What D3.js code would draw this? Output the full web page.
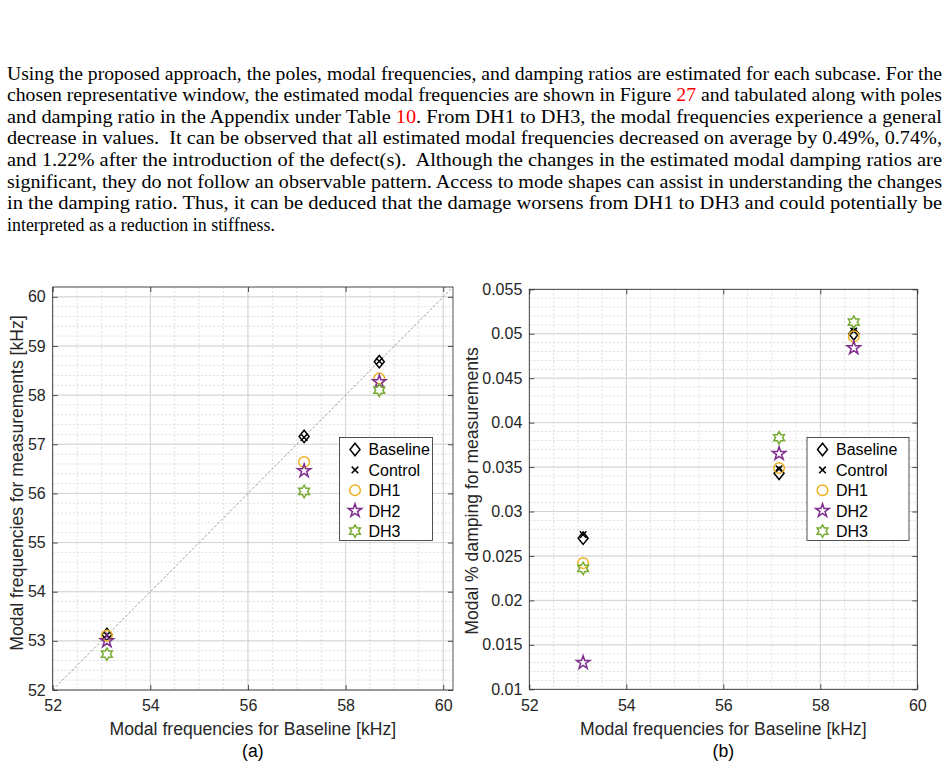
<!DOCTYPE html>
<html>
<head>
<meta charset="utf-8">
<script src="https://cdn.jsdelivr.net/npm/d3@7"></script>
<style>
  body { margin: 0; background: #fff; }
  svg { display: block; }
</style>
</head>
<body>
<svg id="fig" width="950" height="767"></svg>
<script>
// ---- data ----
const baselineFreq = [53.11, 57.15, 58.69];            // x: modal freq of Baseline [kHz]
const seriesNames  = ['Baseline', 'Control', 'DH1', 'DH2', 'DH3'];

// (a) modal frequencies for measurements [kHz]
const freqBaseline = [53.13, 57.16, 58.68];
const freqControl  = [53.12, 57.14, 58.69];
const freqDH1      = [53.11, 56.64, 58.34];
const freqDH2      = [53.00, 56.46, 58.27];
const freqDH3      = [52.73, 56.04, 58.10];

// (b) modal % damping for measurements
const dampBaseline = [0.0270, 0.0343, 0.0500];
const dampControl  = [0.0274, 0.0348, 0.0503];
const dampDH1      = [0.0242, 0.0349, 0.0497];
const dampDH2      = [0.0130, 0.0365, 0.0484];
const dampDH3      = [0.0236, 0.0383, 0.0513];

const xTicks      = [52, 54, 56, 58, 60];
const freqTicks   = [52, 53, 54, 55, 56, 57, 58, 59, 60];
const dampTicks   = [0.01, 0.015, 0.02, 0.025, 0.03, 0.035, 0.04, 0.045, 0.05, 0.055];

const paragraph = [
  [['Using the proposed approach, the poles, modal frequencies, and damping ratios are estimated for each subcase. For the']],
  [['chosen representative window, the estimated modal frequencies are shown in Figure '], ['27', 'red'], [' and tabulated along with poles']],
  [['and damping ratio in the Appendix under Table '], ['10', 'red'], ['. From DH1 to DH3, the modal frequencies experience a general']],
  [['decrease in values.  It can be observed that all estimated modal frequencies decreased on average by 0.49%, 0.74%,']],
  [['and 1.22% after the introduction of the defect(s).  Although the changes in the estimated modal damping ratios are']],
  [['significant, they do not follow an observable pattern. Access to mode shapes can assist in understanding the changes']],
  [['in the damping ratio. Thus, it can be deduced that the damage worsens from DH1 to DH3 and could potentially be']],
  [['interpreted as a reduction in stiffness.']]
];

// ---- styles ----
const colors  = { Baseline: '#000', Control: '#000', DH1: '#EDB120', DH2: '#7E2F8E', DH3: '#77AC30' };
const sans    = '"Liberation Sans", Arial, sans-serif';
const serif   = '"Liberation Serif", "Times New Roman", serif';

const svg = d3.select('#fig');

// ---- text paragraph (justified lines) ----
paragraph.forEach((line, i) => {
  const t = svg.append('text')
    .attr('x', 7)
    .attr('y', 79.5 + i * 21.64)
    .style('font-family', serif)
    .style('font-size', '17.9px')
    .attr('fill', '#000')
    .attr('xml:space', 'preserve');
  line.forEach(seg => {
    t.append('tspan').attr('fill', seg[1] || '#000').text(seg[0]);
  });
  if (i < paragraph.length - 1) {
    t.attr('textLength', 935).attr('lengthAdjust', 'spacingAndGlyphs');
  }
});

// ---- marker shapes (MATLAB-like) ----
function starPath(points, R, r) {
  const pts = [];
  for (let k = 0; k < points * 2; k++) {
    const a = -Math.PI / 2 + k * Math.PI / points;
    const rad = k % 2 === 0 ? R : r;
    pts.push([rad * Math.cos(a), rad * Math.sin(a)]);
  }
  return 'M' + pts.map(p => p[0].toFixed(2) + ',' + p[1].toFixed(2)).join('L') + 'Z';
}
const markerPath = {
  Baseline: 'M0,-6.2L5,0L0,6.2L-5,0Z',
  Control: 'M-3.3,-3.3L3.3,3.3M-3.3,3.3L3.3,-3.3',
  DH1: d3.symbol(d3.symbolCircle, Math.PI * 5.3 * 5.3)(),
  DH2: starPath(5, 7, 7 * 0.382),
  DH3: starPath(6, 6.2, 6.2 / Math.sqrt(3))
};

function drawMarker(g, name, x, y) {
  g.append('path')
    .attr('d', markerPath[name])
    .attr('transform', `translate(${x},${y})`)
    .attr('fill', 'none')
    .attr('stroke', colors[name])
    .attr('stroke-width', 1.5)
    .attr('stroke-linejoin', 'miter');
}

// ---- one panel ----
function panel(opt) {
  const g = svg.append('g');
  const x = d3.scaleLinear().domain(opt.xDomain).range([opt.x0, opt.x1]);
  const y = d3.scaleLinear().domain(opt.yDomain).range([opt.y1, opt.y0]);

  // minor grid
  const xMinor = d3.range(opt.xDomain[0], opt.xDomain[1] + 1e-9, 0.5);
  const yMinor = d3.range(0, Math.round((opt.yDomain[1] - opt.yDomain[0]) / opt.yMinorStep) + 1)
    .map(k => opt.yDomain[0] + k * opt.yMinorStep);
  g.append('g').selectAll('line').data(xMinor).join('line')
    .attr('x1', d => x(d)).attr('x2', d => x(d))
    .attr('y1', opt.y0).attr('y2', opt.y1)
    .attr('stroke', '#d6d6d6').attr('stroke-width', 0.8).attr('stroke-dasharray', '2,2');
  g.append('g').selectAll('line').data(yMinor).join('line')
    .attr('x1', opt.x0).attr('x2', opt.x1)
    .attr('y1', d => y(d)).attr('y2', d => y(d))
    .attr('stroke', '#d6d6d6').attr('stroke-width', 0.8).attr('stroke-dasharray', '2,2');

  // major grid
  g.append('g').selectAll('line').data(opt.xTicks).join('line')
    .attr('x1', d => x(d)).attr('x2', d => x(d))
    .attr('y1', opt.y0).attr('y2', opt.y1)
    .attr('stroke', '#d4d4d4').attr('stroke-width', 1);
  g.append('g').selectAll('line').data(opt.yTicks).join('line')
    .attr('x1', opt.x0).attr('x2', opt.x1)
    .attr('y1', d => y(d)).attr('y2', d => y(d))
    .attr('stroke', '#d4d4d4').attr('stroke-width', 1);

  if (opt.diagonal) {
    g.append('line')
      .attr('x1', x(opt.xDomain[0])).attr('y1', y(opt.xDomain[0]))
      .attr('x2', x(opt.xDomain[1])).attr('y2', y(opt.xDomain[1]))
      .attr('stroke', '#8c8c8c').attr('stroke-width', 0.9).attr('stroke-dasharray', '2.5,2');
  }

  // axes (ticks inward, on all four sides)
  const fmt = opt.yFormat;
  const axB = g.append('g').attr('transform', `translate(0,${opt.y1})`)
    .call(d3.axisBottom(x).tickValues(opt.xTicks).tickSizeInner(-5).tickSizeOuter(0).tickPadding(10).tickFormat(d3.format('d')));
  const axL = g.append('g').attr('transform', `translate(${opt.x0},0)`)
    .call(d3.axisLeft(y).tickValues(opt.yTicks).tickSizeInner(-5).tickSizeOuter(0).tickPadding(7).tickFormat(fmt));
  const axT = g.append('g').attr('transform', `translate(0,${opt.y0})`)
    .call(d3.axisTop(x).tickValues(opt.xTicks).tickSizeInner(-5).tickSizeOuter(0).tickFormat(''));
  const axR = g.append('g').attr('transform', `translate(${opt.x1},0)`)
    .call(d3.axisRight(y).tickValues(opt.yTicks).tickSizeInner(-5).tickSizeOuter(0).tickFormat(''));
  [axB, axL, axT, axR].forEach(a => {
    a.select('.domain').remove();
    a.selectAll('line').attr('stroke', '#262626').attr('stroke-width', 0.8);
    a.selectAll('text').style('font-family', sans).style('font-size', '16px').attr('fill', '#262626');
  });

  g.append('rect')
    .attr('x', opt.x0).attr('y', opt.y0)
    .attr('width', opt.x1 - opt.x0).attr('height', opt.y1 - opt.y0)
    .attr('fill', 'none').attr('stroke', '#262626').attr('stroke-width', 0.8);

  // data markers
  const mg = g.append('g');
  seriesNames.forEach(name => {
    opt.series[name].forEach((v, i) => drawMarker(mg, name, x(baselineFreq[i]), y(v)));
  });

  // labels
  g.append('text')
    .attr('x', (opt.x0 + opt.x1) / 2).attr('y', 735)
    .attr('text-anchor', 'middle')
    .style('font-family', sans).style('font-size', '17.6px').attr('fill', '#262626')
    .text('Modal frequencies for Baseline [kHz]');
  g.append('text')
    .attr('x', (opt.x0 + opt.x1) / 2).attr('y', 757)
    .attr('text-anchor', 'middle')
    .style('font-family', sans).style('font-size', '17.6px').attr('fill', '#000')
    .text(opt.caption);
  g.append('text')
    .attr('transform', `translate(${opt.yLabelX},${opt.yLabelY}) rotate(-90)`)
    .attr('text-anchor', 'middle')
    .style('font-family', sans).style('font-size', '17.6px').attr('fill', '#262626')
    .text(opt.yLabel);

  // legend
  const lg = g.append('g');
  lg.append('rect')
    .attr('x', opt.legend.x).attr('y', opt.legend.y)
    .attr('width', opt.legend.w).attr('height', opt.legend.h)
    .attr('fill', '#fff').attr('stroke', '#262626').attr('stroke-width', 0.8);
  seriesNames.forEach((name, i) => {
    const cy = opt.legend.y + 12 + i * 20.4;
    drawMarker(lg, name, opt.legend.x + 15.5, cy);
    lg.append('text')
      .attr('x', opt.legend.x + 29).attr('y', cy + 5.8)
      .style('font-family', sans).style('font-size', '16px').attr('fill', '#000')
      .text(name);
  });
}

panel({
  x0: 52.7, x1: 453, y0: 287, y1: 690,
  xDomain: [52, 60.2], yDomain: [52, 60.2],
  xTicks: xTicks, yTicks: freqTicks, yMinorStep: 0.2,
  yFormat: d3.format('d'),
  diagonal: true,
  series: { Baseline: freqBaseline, Control: freqControl, DH1: freqDH1, DH2: freqDH2, DH3: freqDH3 },
  yLabel: 'Modal frequencies for measurements [kHz]', yLabelX: 23, yLabelY: 483,
  caption: '(a)',
  legend: { x: 339.5, y: 437.5, w: 93, h: 103 }
});

panel({
  x0: 529.3, x1: 917.3, y0: 289.3, y1: 689.3,
  xDomain: [52, 60], yDomain: [0.01, 0.055],
  xTicks: xTicks, yTicks: dampTicks, yMinorStep: 0.001,
  yFormat: d => String(+d.toFixed(3)),
  diagonal: false,
  series: { Baseline: dampBaseline, Control: dampControl, DH1: dampDH1, DH2: dampDH2, DH3: dampDH3 },
  yLabel: 'Modal % damping for measurements', yLabelX: 478, yLabelY: 491,
  caption: '(b)',
  legend: { x: 807, y: 437.5, w: 102, h: 103 }
});
</script>
</body>
</html>
